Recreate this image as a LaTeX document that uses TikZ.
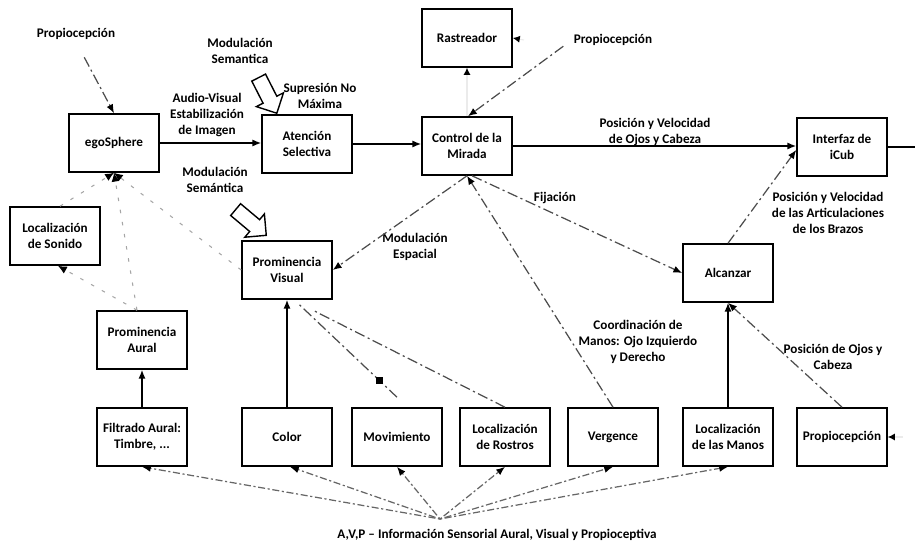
\documentclass[tikz,border=0pt]{standalone}
\usepackage{fontspec}
\setmainfont{Carlito}
\usetikzlibrary{arrows.meta,shapes.arrows}
\begin{document}
\begin{tikzpicture}[x=0.02cm,y=-0.02cm,
  every node/.style={font=\fontsize{7.5}{9.1}\selectfont\bfseries, align=center, inner sep=1pt},
  blk/.style={draw, line width=0.9pt, minimum width=1.8cm, minimum height=1.16cm, inner sep=2pt},
  semarrow/.style={single arrow, draw, line width=0.8pt, fill=white, minimum height=0.8cm,
    inner sep=0.14cm, single arrow head extend=0.15cm},
  solidarr/.style={line width=0.8pt, -{Latex[length=5pt,width=4pt]}},
  dd/.style={line width=0.7pt, black!70, dash pattern=on 6pt off 2pt on 1.2pt off 2pt,
    -{Latex[length=5pt,width=4pt,color=black]}},
  faint/.style={line width=0.6pt, black!35, dash pattern=on 2pt off 5pt,
    -{Latex[length=5pt,width=4.5pt,color=black]}},
  dotarr/.style={line width=0.7pt, black!60, dash pattern=on 1.2pt off 1.5pt on 4pt off 1.5pt,
    -{Latex[length=5pt,width=4pt,color=black]}},
  stub/.style={line width=0.6pt, black!8, -{Latex[length=4pt,width=4pt,color=black]}}
]
\useasboundingbox (0,0) rectangle (915,544);

% processing blocks
\node[blk] (ego)    at (114,143) {egoSphere};
\node[blk] (aten)   at (307,144) {Atención\\Selectiva};
\node[blk] (rast)   at (467,38)  {Rastreador};
\node[blk] (ctrl)   at (467,146) {Control de la\\Mirada};
\node[blk] (icub)   at (842,147) {Interfaz de\\iCub};
\node[blk] (sonido) at (55,236)  {Localización\\de Sonido};
\node[blk] (pvis)   at (287,270) {Prominencia\\Visual};
\node[blk] (paur)   at (142,340) {Prominencia\\Aural};
\node[blk] (alc)    at (728,273) {Alcanzar};
\node[blk] (filt)   at (142,437) {Filtrado Aural:\\Timbre, ...};
\node[blk] (color)  at (287,437) {Color};
\node[blk] (mov)    at (397,437) {Movimiento};
\node[blk] (rost)   at (505,437) {Localización\\de Rostros};
\node[blk] (verg)   at (613,437) {Vergence};
\node[blk] (manos)  at (728,437) {Localización\\de las Manos};
\node[blk] (prop)   at (842,437) {Propiocepción};

% free-standing labels
\node (lprop1)   at (76,34)   {Propiocepción};
\node (lmodsem1) at (240,51)  {Modulación\\Semantica};
\node (lsup)     at (320,96)  {Supresión No\\Máxima};
\node (laud)     at (207,115) {Audio-Visual\\Estabilización\\de Imagen};
\node (lmodsem2) at (215,180) {Modulación\\Semántica};
\node (lprop2)   at (613,40)  {Propiocepción};
\node (lposvel)  at (655,132) {Posición y Velocidad\\de Ojos y Cabeza};
\node (lfij)     at (555,198) {Fijación};
\node (lmodesp)  at (415,247) {Modulación\\Espacial};
\node (lcoord)   at (638,342) {Coordinación de\\Manos: Ojo Izquierdo\\y Derecho};
\node (lbrazos)  at (828,213) {Posición y Velocidad\\de las Articulaciones\\de los Brazos};
\node (lposojos) at (833,357) {Posición de Ojos y\\Cabeza};
\node (lavp)     at (497,535) {A,V,P -- Información Sensorial Aural, Visual y Propioceptiva};

% semantic modulation block arrows
\node[semarrow, rotate=-63] (sem1) at (266,92) {};
\node[semarrow, rotate=-40] (sem2) at (248,220) {};

% auxiliary end points
\coordinate (edgeR)  at (915,147);
\coordinate (rastR)  at (524,40);
\coordinate (propR)  at (903,437);
\coordinate (conv)   at (440,519);

% main solid flow
\draw[solidarr] (ego.east) -- (ego.east -| aten.west);
\draw[solidarr] (aten.east) -- (aten.east -| ctrl.west);
\draw[solidarr] (ctrl.east) -- (ctrl.east -| icub.west);
\draw[line width=0.8pt] (icub.east) -- (edgeR);
\draw[solidarr] (filt.north) -- (paur.south);
\draw[solidarr] (color.north) -- (pvis.south);
\draw[solidarr] (manos.north) -- (alc.south);

% proprioception inputs
\draw[dd, shorten <=10pt] (lprop1.south) -- (ego.north);
\draw[dd, shorten <=6pt] (lprop2.west) -- ([xshift=0.02cm]ctrl.north);
\draw[stub] (ctrl.north) -- (rast.south);
\draw[stub] (rastR) -- (rast.east);
\draw[stub] (propR) -- (prop.east);

% egoSphere feedback (faded)
\draw[faint] (sonido.north) ++(0.1cm,0) -- (ego.south);
\draw[faint] ([xshift=-0.1cm]paur.north) -- (ego.south);
\draw[faint] (pvis.west) -- (ego.south);
\draw[faint] ([xshift=-0.1cm]paur.north) -- ([xshift=0.06cm]sonido.south);

% visual saliency
\draw[dd, -] ([yshift=0.2cm]mov.north) -- node[pos=0.18, fill=black, minimum size=4pt, inner sep=0pt]{} ([xshift=0.25cm,yshift=-0.1cm]pvis.south);
\draw[dd, -] (rost.north) -- ([xshift=0.5cm,yshift=-0.2cm]pvis.south);
\draw[dd] (ctrl.south) -- (pvis.east);

% gaze and reaching
\draw[dd] (verg.north) -- (ctrl.south);
\draw[dd] ([xshift=0.1cm]ctrl.south) -- (alc.west);
\draw[dd] (alc.north) -- ([yshift=-0.06cm]icub.west);
\draw[dd] (prop.north) -- (alc.south);

% sensory information fan-in
\draw[dotarr] (conv) -- (filt.south);
\draw[dotarr] (conv) -- ([xshift=0.06cm]color.south);
\draw[dotarr] (conv) -- (mov.south);
\draw[dotarr] (conv) -- (rost.south);
\draw[dotarr] (conv) -- (verg.south);
\draw[dotarr] (conv) -- (manos.south);
\end{tikzpicture}
\end{document}
